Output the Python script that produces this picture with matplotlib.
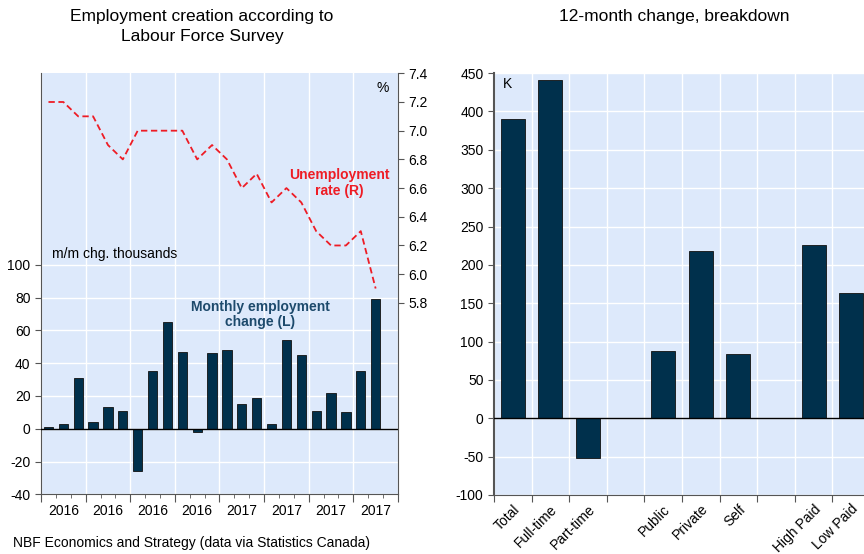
import matplotlib
matplotlib.use("Agg")
import matplotlib.pyplot as plt
import matplotlib.transforms as mtransforms
import numpy as np

plt.rcParams['font.family'] = ['Liberation Sans', 'DejaVu Sans']
plt.rcParams['axes.unicode_minus'] = False

# monthly data, Jan 2016 - Nov 2017
emp_change = [1, 3, 31, 4, 13, 11, -26, 35, 65, 47, -2, 46,
              48, 15, 19, 3, 54, 45, 11, 22, 10, 35, 79]
unemp_rate = [7.2, 7.2, 7.1, 7.1, 6.9, 6.8, 7.0, 7.0, 7.0, 7.0, 6.8, 6.9,
              6.8, 6.6, 6.7, 6.5, 6.6, 6.5, 6.3, 6.2, 6.2, 6.3, 5.9]
year_labels = ['2016', '2016', '2016', '2016', '2017', '2017', '2017', '2017']

# 12-month breakdown (blank slots are gaps)
cats = ['Total', 'Full-time', 'Part-time', '', 'Public', 'Private', 'Self', '', 'High Paid', 'Low Paid']
vals = [390, 441, -52, np.nan, 88, 218, 84, np.nan, 226, 164]

bg = '#dde9fb'
navy = '#00304c'
red = '#ee1c25'
grey = '#555555'
fs = 10

fig = plt.figure(figsize=(8.64, 5.54), dpi=100)

# ---- left panel
ax = fig.add_axes([0.0475, 0.1078, 0.4131, 0.7599])
ax.set_facecolor(bg)
x = np.arange(len(emp_change))
ax.bar(x, emp_change, width=0.62, color=navy, edgecolor='#111111', linewidth=0.6, zorder=3)
ax.axhline(0, color='black', lw=1.0, zorder=4)
ax.set_xlim(-0.5, 23.5)
ax.set_ylim(-40, 217)
ax.set_yticks(np.arange(-40, 101, 20))
ax.set_xticks(np.arange(-0.5, 23.6, 3))
ax.set_xticks(np.arange(-0.5, 23.6, 1), minor=True)
ax.set_xticklabels([])
ax.tick_params(axis='x', which='major', length=6, color=grey)
ax.tick_params(axis='x', which='minor', length=3, color=grey)
ax.tick_params(axis='y', length=4, color=grey, labelsize=fs)
ax.grid(True, color='white', lw=1.0, zorder=0)
ax.set_axisbelow(True)
for s in ['top', 'right']:
    ax.spines[s].set_visible(False)
for s in ['left', 'bottom']:
    ax.spines[s].set_color(grey)

trans = mtransforms.blended_transform_factory(ax.transData, ax.transAxes)
for i, lab in enumerate(year_labels):
    ax.text(1 + 3 * i, -0.04, lab, transform=trans, ha='center', va='center', fontsize=fs)

ax2 = ax.twinx()
ax2.plot(x, unemp_rate, color=red, lw=1.3, ls=(0, (3.5, 2)), zorder=5)
ax2.set_ylim(4.466, 7.4)
ax2.set_yticks(np.round(np.arange(5.8, 7.41, 0.2), 1))
ax2.set_yticklabels([f'{v:.1f}' for v in np.arange(5.8, 7.41, 0.2)])
ax2.tick_params(axis='y', length=4, color=grey, labelsize=fs)
for s in ['top', 'left', 'bottom']:
    ax2.spines[s].set_visible(False)
ax2.spines['right'].set_color(grey)

ax.text(0.24, 106.5, 'm/m chg. thousands', ha='left', va='center', fontsize=fs)
ax.text(22.5, 208, '%', ha='center', va='center', fontsize=fs)
ax.text(19.57, 150, 'Unemployment\nrate (R)', ha='center', va='center', fontsize=fs,
        fontweight='bold', color=red, linespacing=1.1, zorder=6)
ax.text(14.22, 70, 'Monthly employment\nchange (L)', ha='center', va='center', fontsize=fs,
        fontweight='bold', color='#1d4a6c', linespacing=1.1, zorder=6)

# ---- right panel
bx = fig.add_axes([0.5718, 0.1065, 0.4351, 0.7615])
bx.set_facecolor(bg)
xb = np.arange(len(cats))
bx.bar(xb, vals, width=0.64, color=navy, edgecolor='#111111', linewidth=0.6, zorder=3)
bx.axhline(0, color='black', lw=1.0, zorder=4)
bx.set_xlim(-0.5, 9.5)
bx.set_ylim(-100, 450)
bx.set_yticks(np.arange(-100, 451, 50))
bx.set_xticks(np.arange(-0.5, 9.6, 1))
bx.set_xticklabels([])
bx.set_xticks(xb, minor=True)
bx.set_xticklabels(cats, minor=True, rotation=45, ha='right', rotation_mode='anchor', fontsize=fs)
bx.tick_params(axis='x', which='minor', length=0, pad=5)
bx.tick_params(axis='x', which='major', length=5, color=grey)
bx.tick_params(axis='y', length=4, color=grey, labelsize=fs)
bx.grid(True, which='major', color='white', lw=1.0, zorder=0)
bx.set_axisbelow(True)
for s in ['top', 'right']:
    bx.spines[s].set_visible(False)
for s in ['left', 'bottom']:
    bx.spines[s].set_color(grey)
bx.spines['left'].set_linewidth(1.5)
bx.text(-0.26, 436, 'K', ha='left', va='center', fontsize=fs)

fig.text(202 / 864, 1 - 26.5 / 554, 'Employment creation according to\nLabour Force Survey',
         ha='center', va='center', fontsize=12.5, linespacing=1.45)
fig.text(674 / 864, 1 - 16 / 554, '12-month change, breakdown', ha='center', va='center', fontsize=12.5)
fig.text(13 / 864, 1 - 543 / 554, 'NBF Economics and Strategy (data via Statistics Canada)',
         ha='left', va='center', fontsize=fs)

fig.savefig('out.png', dpi=100)
